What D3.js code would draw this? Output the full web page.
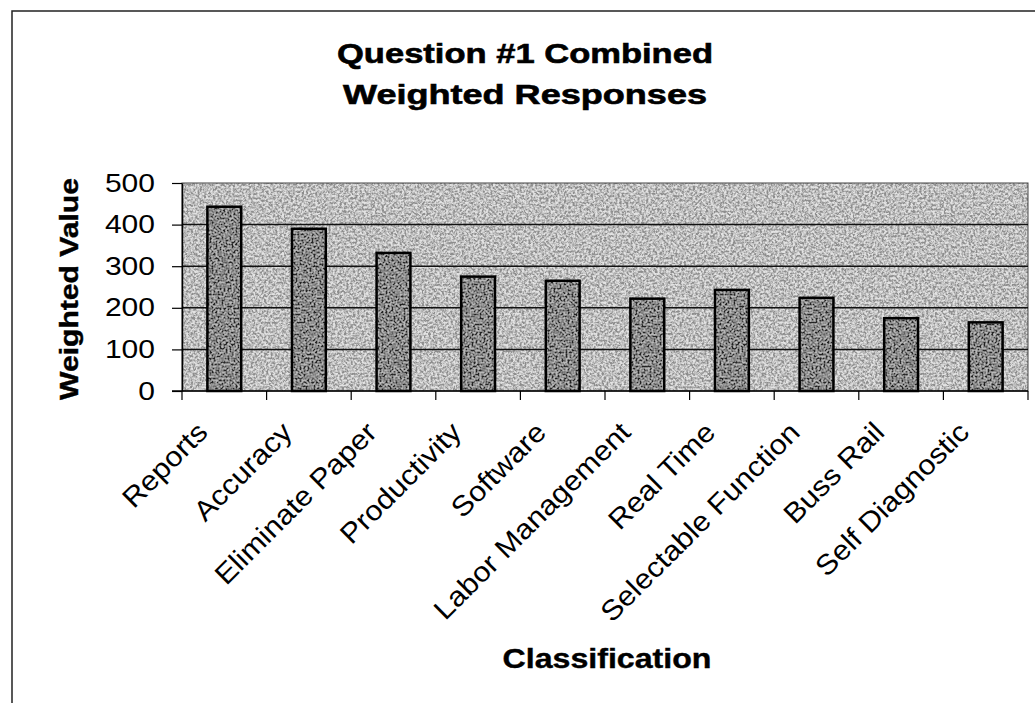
<!DOCTYPE html>
<html>
<head>
<meta charset="utf-8">
<script src="https://cdn.jsdelivr.net/npm/d3@7"></script>
<style>
  body { margin: 0; background: #fff; }
  text { font-family: Arial, "Liberation Sans", sans-serif; fill: #000; }
</style>
</head>
<body>
<script>
// chart data
const categories = ["Reports", "Accuracy", "Eliminate Paper", "Productivity", "Software",
                    "Labor Management", "Real Time", "Selectable Function", "Buss Rail", "Self Diagnostic"];
const values = [443, 390, 332, 275, 265, 222, 243, 224, 175, 165];
const yTicks = [0, 100, 200, 300, 400, 500];
const titleLines = ["Question #1 Combined", "Weighted Responses"];

const W = 1035, H = 703;
const plot = {left: 182, top: 183, right: 1028, bottom: 391};

const svg = d3.select("body").append("svg")
    .attr("width", W)
    .attr("height", H);

// grainy scan look
const defs = svg.append("defs");
function grain(id, seed, freq, mix, shift) {
    let f = defs.append("filter").attr("id", id)
        .attr("x", 0).attr("y", 0).attr("width", 1).attr("height", 1);
    f.append("feTurbulence").attr("type", "fractalNoise")
        .attr("baseFrequency", freq).attr("numOctaves", 4).attr("seed", seed).attr("result", "n");
    f.append("feColorMatrix").attr("in", "n").attr("type", "saturate").attr("values", 0).attr("result", "g");
    let ct = f.append("feComponentTransfer").attr("in", "g").attr("result", "c");
    ["feFuncR", "feFuncG", "feFuncB"].forEach(fn =>
        ct.append(fn).attr("type", "linear").attr("slope", 3.6).attr("intercept", -1.3));
    ct.append("feFuncA").attr("type", "table").attr("tableValues", "1 1");
    f.append("feComposite").attr("in", "c").attr("in2", "SourceGraphic")
        .attr("operator", "arithmetic")
        .attr("k1", 0).attr("k2", mix).attr("k3", 1 - mix).attr("k4", shift).attr("result", "m");
    f.append("feComposite").attr("in", "m").attr("in2", "SourceGraphic").attr("operator", "in");
}
grain("bgGrain", 4, 0.45, 0.5, 0.06);
grain("barGrain", 9, 0.5, 0.45, -0.04);

// stretch text a bit wider, like the scanned original
function widen(sel, k) {
    sel.each(function() {
        let len = this.getComputedTextLength();
        d3.select(this).attr("textLength", len * k).attr("lengthAdjust", "spacingAndGlyphs");
    });
}

// outer frame
svg.append("path")
    .attr("d", `M12,${H} V11 H${W}`)
    .attr("fill", "none")
    .attr("stroke", "#222")
    .attr("stroke-width", 1.5);

// title
svg.append("g").selectAll("text")
    .data(titleLines)
    .join("text")
        .attr("x", 525)
        .attr("y", (d, i) => 63 + i * 41)
        .attr("text-anchor", "middle")
        .attr("font-size", 28)
        .attr("font-weight", "bold")
        .attr("stroke", "#000")
        .attr("stroke-width", 0.6)
        .text(d => d)
        .attr("textLength", (d, i) => i === 0 ? 376 : 364)
        .attr("lengthAdjust", "spacingAndGlyphs");

let x = d3.scaleBand(categories, [plot.left, plot.right]).paddingInner(0.6).paddingOuter(0.3);
let xStep = d3.scaleBand(categories, [plot.left, plot.right]).padding(0);
let y = d3.scaleLinear([0, 500], [plot.bottom, plot.top]);

// plot area
svg.append("rect")
    .attr("x", plot.left)
    .attr("y", plot.top)
    .attr("width", plot.right - plot.left)
    .attr("height", plot.bottom - plot.top)
    .attr("fill", "#acacac")
    .attr("filter", "url(#bgGrain)");

svg.append("rect")
    .attr("x", plot.left)
    .attr("y", plot.top)
    .attr("width", plot.right - plot.left)
    .attr("height", plot.bottom - plot.top)
    .attr("fill", "none")
    .attr("stroke", "#444")
    .attr("stroke-width", 1);

// gridlines
svg.append("g")
    .selectAll("line")
    .data(yTicks.filter(d => d > 0 && d < 500))
    .join("line")
        .attr("x1", plot.left)
        .attr("x2", plot.right)
        .attr("y1", d => y(d))
        .attr("y2", d => y(d))
        .attr("stroke", "#111")
        .attr("stroke-width", 1.5);

// bars
svg.append("g")
    .selectAll("rect")
    .data(values)
    .join("rect")
        .attr("x", (d, i) => x(categories[i]))
        .attr("y", d => y(d))
        .attr("width", x.bandwidth())
        .attr("height", d => y(0) - y(d))
        .attr("fill", "#585858")
        .attr("filter", "url(#barGrain)");

svg.append("g")
    .selectAll("rect")
    .data(values)
    .join("rect")
        .attr("x", (d, i) => x(categories[i]))
        .attr("y", d => y(d))
        .attr("width", x.bandwidth())
        .attr("height", d => y(0) - y(d))
        .attr("fill", "none")
        .attr("stroke", "#000")
        .attr("stroke-width", 2.5);

// y axis
let yAxis = svg.append("g")
    .attr("transform", `translate(${plot.left},0)`)
    .call(d3.axisLeft(y).tickValues(yTicks).tickSize(10).tickSizeOuter(0).tickPadding(17))
    .call(g => g.select(".domain").attr("stroke", "#000").attr("stroke-width", 1.5))
    .call(g => g.selectAll(".tick line").attr("stroke", "#000").attr("stroke-width", 1.2));
yAxis.attr("font-family", null);
yAxis.selectAll(".tick text")
    .attr("font-size", 25)
    .call(widen, 1.2);

// x axis line + boundary ticks
let xAxis = svg.append("g");
xAxis.append("line")
    .attr("x1", plot.left - 10)
    .attr("x2", plot.right)
    .attr("y1", y(0))
    .attr("y2", y(0))
    .attr("stroke", "#000")
    .attr("stroke-width", 1.5);
xAxis.selectAll(".bound")
    .data(categories.map(c => xStep(c)).concat([plot.right]))
    .join("line")
        .attr("class", "bound")
        .attr("x1", d => d)
        .attr("x2", d => d)
        .attr("y1", y(0))
        .attr("y2", y(0) + 9)
        .attr("stroke", "#000")
        .attr("stroke-width", 1.2);
xAxis.selectAll("text")
    .data(categories)
    .join("text")
        .attr("transform", d => `translate(${x(d) + x.bandwidth() / 2 - 15},434) rotate(-45)`)
        .attr("text-anchor", "end")
        .attr("font-size", 28)
        .text(d => d)
        .call(widen, 1.09);

// axis titles
svg.append("text")
    .attr("transform", "translate(78,289) rotate(-90)")
    .attr("text-anchor", "middle")
    .attr("font-size", 26)
    .attr("font-weight", "bold")
    .attr("stroke", "#000")
    .attr("stroke-width", 0.4)
    .text("Weighted Value")
    .attr("textLength", 222)
    .attr("lengthAdjust", "spacingAndGlyphs");

svg.append("text")
    .attr("x", 607)
    .attr("y", 668)
    .attr("text-anchor", "middle")
    .attr("font-size", 27)
    .attr("font-weight", "bold")
    .attr("stroke", "#000")
    .attr("stroke-width", 0.4)
    .text("Classification")
    .attr("textLength", 209)
    .attr("lengthAdjust", "spacingAndGlyphs");
</script>
</body>
</html>
